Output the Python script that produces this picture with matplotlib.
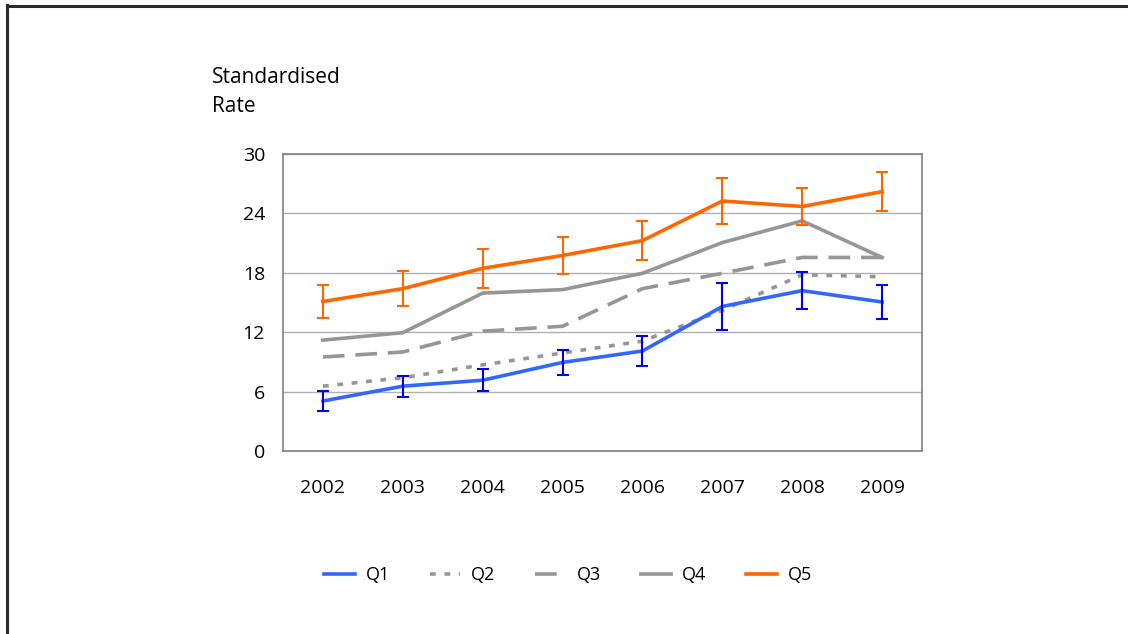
import matplotlib
matplotlib.use('Agg')
import matplotlib.pyplot as plt
from matplotlib.lines import Line2D
import numpy as np

# Standardised rate by quintile, 2002-2009
years = ['2002', '2003', '2004', '2005', '2006', '2007', '2008', '2009']
q1 = [5.05, 6.55, 7.15, 8.95, 10.1, 14.6, 16.2, 15.05]
q2 = [6.55, 7.4, 8.7, 9.9, 11.1, 14.2, 17.8, 17.6]
q3 = [9.5, 10.0, 12.1, 12.6, 16.4, 17.95, 19.55, 19.55]
q4 = [11.2, 11.95, 15.95, 16.3, 17.95, 21.05, 23.25, 19.55]
q5 = [15.1, 16.4, 18.45, 19.75, 21.25, 25.25, 24.7, 26.2]
q1_err = [1.0, 1.05, 1.1, 1.3, 1.55, 2.35, 1.85, 1.75]
q5_err = [1.7, 1.8, 1.95, 1.9, 2.0, 2.3, 1.9, 2.0]

plt.rcParams['font.family'] = ['Open Sans', 'DejaVu Sans']

fig = plt.figure(figsize=(11.28, 6.34), dpi=100)

# outer frame (only top and left edges show)
fig.add_artist(Line2D([7 / 1128, 7 / 1128], [0, 1 - 5 / 634], color='#2a2a2a', lw=2.2))
fig.add_artist(Line2D([7 / 1128, 1], [1 - 6 / 634, 1 - 6 / 634], color='#2a2a2a', lw=2.2))

ax = fig.add_axes([283 / 1128, 1 - 451 / 634, 639 / 1128, 297 / 634])
x = np.arange(len(years))

grey = '#969696'
ax.plot(x, q4, color=grey, lw=2.6, label='Q4', zorder=3)
ax.plot(x, q3, color=grey, lw=2.6, dashes=(6, 3), label='Q3', zorder=3)
ax.plot(x, q2, color=grey, lw=2.6, dashes=(1.6, 2.4), label='Q2', zorder=3)
ax.plot(x, q1, color='#3366ff', lw=2.6, label='Q1', zorder=4)
ax.plot(x, q5, color='#ff6600', lw=2.6, label='Q5', zorder=4)

ax.errorbar(x, q1, yerr=q1_err, fmt='none', ecolor='#0000ee', elinewidth=1.5,
            capsize=4.5, capthick=1.5, zorder=5)
ax.errorbar(x, q5, yerr=q5_err, fmt='none', ecolor='#ff6600', elinewidth=1.5,
            capsize=4.5, capthick=1.5, zorder=5)

ax.set_xlim(-0.5, len(years) - 0.5)
ax.set_ylim(0, 30)
ax.set_yticks(range(0, 31, 6))
ax.set_xticks(x)
ax.set_xticklabels(years)
ax.yaxis.grid(True, color='#b0b0b0', lw=1)
ax.set_axisbelow(True)
ax.tick_params(length=0, labelsize=14, colors='black')
ax.tick_params(axis='x', pad=20)
ax.tick_params(axis='y', pad=13)
for s in ax.spines.values():
    s.set_color('#808080')
    s.set_linewidth(1.2)

fig.text(212 / 1128, 1 - 92 / 634, 'Standardised\nRate', fontsize=15,
         va='center', ha='left', linespacing=1.45)

handles, labels = ax.get_legend_handles_labels()
order = [3, 2, 1, 0, 4]
fig.legend([handles[i] for i in order], [labels[i] for i in order],
           loc='center', bbox_to_anchor=(568 / 1128, 1 - 575 / 634), ncol=5,
           frameon=False, fontsize=13, handlelength=1.7, columnspacing=2.2,
           handletextpad=0.6)

fig.savefig('out.png', dpi=100, facecolor='white')
